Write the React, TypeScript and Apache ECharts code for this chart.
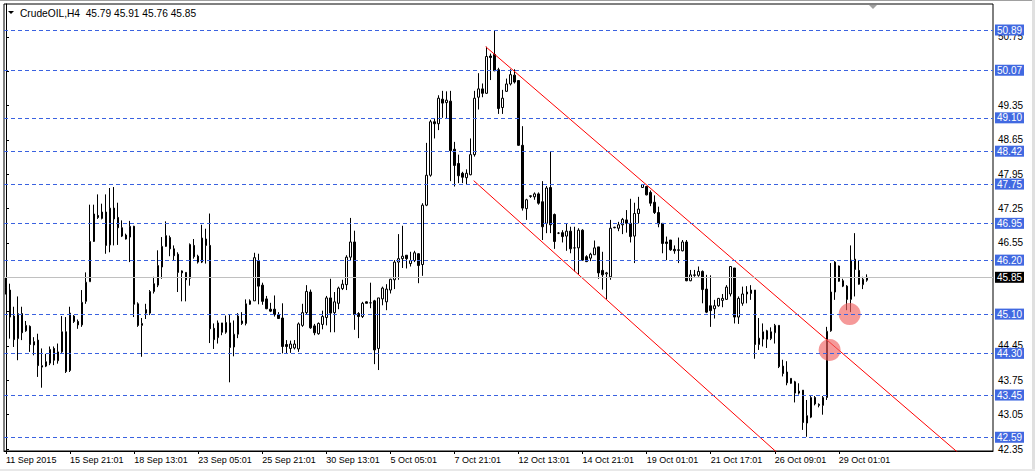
import React, { useEffect, useRef } from 'react';
import * as echarts from 'echarts';

const FONT = '"Liberation Sans", Arial, sans-serif';

const header = 'CrudeOIL,H4  45.79 45.91 45.76 45.85';

const tickLabels = [
  '11 Sep 2015', '15 Sep 21:01', '18 Sep 13:01', '23 Sep 05:01', '25 Sep 21:01',
  '30 Sep 13:01', '5 Oct 05:01', '7 Oct 21:01', '12 Oct 13:01', '14 Oct 21:01',
  '19 Oct 01:01', '21 Oct 17:01', '26 Oct 09:01', '29 Oct 01:01',
];
const TICK_STEP = 16;
const BAR_SLOTS = 247;

const opens = [
  45.65, 45.59, 45.06, 44.60, 45.11, 44.76, 44.85, 44.47, 44.57, 44.02,
  44.04, 44.10, 44.40, 44.15, 44.33, 44.74, 43.95, 45.06, 44.95, 44.88,
  45.36, 45.76, 46.58, 47.11, 47.05, 47.18, 46.51, 47.26, 47.07, 46.86,
  46.71, 46.67, 46.89, 45.31, 44.87, 45.19, 45.12, 45.56, 45.69, 46.06,
  46.48, 46.66, 46.43, 46.32, 45.98, 45.95, 45.83, 46.50, 46.28, 46.16,
  46.63, 46.50, 44.81, 44.62, 44.92, 44.73, 44.92, 44.43, 44.69, 44.96,
  44.91, 45.30, 45.37, 46.18, 45.69, 45.41, 45.20, 45.20, 45.09, 45.02,
  44.48, 44.40, 44.41, 44.39, 44.87, 45.13, 45.55, 44.86, 44.70, 44.89,
  45.03, 45.43, 45.13, 45.32, 45.62, 45.70, 46.26, 46.57, 45.11, 45.05,
  45.35, 45.33, 45.37, 44.40, 45.41, 45.35, 45.59, 45.80, 46.16, 46.23,
  46.30, 46.13, 46.19, 46.33, 46.11, 47.32, 47.93, 49.02, 48.98, 49.48,
  49.41, 49.44, 48.46, 48.17, 47.97, 47.88, 47.94, 48.35, 49.52, 49.69,
  49.60, 50.36, 50.39, 50.08, 49.31, 49.64, 49.79, 49.97, 49.86, 48.54,
  47.25, 47.51, 47.49, 47.55, 47.39, 46.95, 47.68, 47.13, 46.75, 46.76,
  46.69, 46.79, 46.45, 46.45, 46.81, 46.27, 46.24, 46.31, 46.47, 45.99,
  45.92, 45.86, 46.86, 46.85, 46.92, 47.02, 46.95, 46.69, 47.15, 47.68,
  47.70, 47.58, 47.38, 47.17, 46.95, 46.57, 46.61, 46.42, 46.41, 46.39,
  46.57, 45.78, 45.89, 45.89, 45.97, 45.61, 45.27, 45.21, 45.27, 45.38,
  45.40, 45.51, 46.04, 45.04, 45.32, 45.51, 45.52, 45.59, 44.48, 44.59,
  44.76, 44.60, 44.72, 44.87, 44.04, 43.92, 43.79, 43.72, 43.49, 43.55,
  42.88, 43.00, 43.40, 43.26, 43.24, 43.40, 44.76, 45.55, 46.08, 45.78,
  45.67, 45.40, 46.22, 45.99, 45.70, 45.79,
];
const highs = [
  45.85, 45.72, 45.25, 45.46, 45.25, 44.96, 44.87, 44.63, 44.70, 44.40,
  44.29, 44.44, 44.44, 44.50, 45.06, 45.04, 45.25, 45.08, 44.99, 45.59,
  45.95, 47.33, 47.33, 47.54, 47.35, 47.54, 47.67, 47.69, 47.37, 47.01,
  46.74, 47.00, 46.90, 45.34, 45.02, 45.31, 45.59, 45.86, 46.40, 46.67,
  46.99, 46.70, 46.50, 46.36, 45.99, 45.95, 46.54, 46.63, 46.31, 46.92,
  46.84, 47.15, 44.91, 44.97, 44.92, 45.07, 45.10, 44.97, 45.12, 45.14,
  45.40, 45.40, 46.35, 46.33, 45.74, 45.47, 45.33, 45.48, 45.14, 45.32,
  44.57, 44.56, 44.57, 44.93, 45.31, 45.69, 45.60, 44.90, 44.93, 45.17,
  45.47, 45.82, 45.55, 45.66, 45.80, 46.30, 47.06, 46.80, 45.14, 45.35,
  45.36, 45.74, 45.39, 45.43, 45.66, 45.71, 45.82, 46.20, 46.73, 46.90,
  46.30, 46.37, 46.39, 46.34, 47.36, 48.59, 49.06, 49.08, 49.56, 49.65,
  49.64, 49.65, 48.61, 48.35, 48.00, 48.05, 48.68, 49.65, 50.01, 49.80,
  50.55, 50.41, 50.88, 50.12, 49.67, 49.90, 50.09, 50.09, 49.87, 48.93,
  47.45, 47.52, 47.58, 47.58, 47.81, 47.71, 48.42, 47.15, 46.77, 46.81,
  46.94, 46.88, 46.88, 46.85, 46.83, 46.30, 46.35, 46.60, 46.47, 46.37,
  45.96, 47.02, 46.88, 46.98, 47.06, 47.22, 47.45, 47.37, 47.49, 47.75,
  47.71, 47.62, 47.52, 47.29, 46.95, 46.68, 46.61, 46.50, 46.66, 46.61,
  46.61, 46.00, 46.00, 46.07, 45.99, 45.90, 45.89, 45.39, 45.43, 45.51,
  45.69, 46.08, 46.04, 45.46, 45.66, 45.67, 45.69, 45.59, 45.02, 44.91,
  44.78, 44.83, 44.90, 44.87, 44.17, 44.14, 43.79, 43.74, 43.69, 43.55,
  43.35, 43.43, 43.43, 43.28, 43.43, 44.84, 46.14, 46.18, 46.09, 45.82,
  45.69, 46.50, 46.75, 46.20, 45.86, 45.91,
];
const lows = [
  45.50, 44.60, 44.43, 44.16, 44.57, 44.74, 44.33, 44.26, 43.82, 43.60,
  44.02, 44.06, 44.06, 44.09, 44.31, 43.90, 43.92, 44.92, 44.80, 44.84,
  45.31, 45.76, 46.57, 47.04, 47.03, 46.33, 46.36, 46.50, 46.51, 46.67,
  46.62, 46.16, 45.04, 44.84, 44.23, 45.00, 45.08, 45.52, 45.65, 45.82,
  46.47, 46.28, 46.20, 45.55, 45.36, 45.36, 45.68, 46.23, 46.13, 46.14,
  46.13, 44.51, 44.39, 44.50, 44.67, 44.70, 43.71, 44.24, 44.61, 44.88,
  44.87, 45.29, 45.37, 45.30, 45.29, 45.20, 45.14, 45.05, 45.00, 44.30,
  44.29, 44.31, 44.38, 44.33, 44.84, 45.09, 44.80, 44.67, 44.68, 44.79,
  44.87, 44.73, 44.73, 45.20, 45.59, 45.59, 46.20, 44.78, 44.61, 45.02,
  45.32, 45.22, 44.08, 43.96, 45.28, 45.18, 45.52, 45.61, 45.80, 46.04,
  46.03, 46.07, 46.16, 45.73, 45.88, 47.30, 47.90, 48.68, 48.85, 49.10,
  49.08, 47.81, 47.70, 47.77, 47.77, 47.75, 47.93, 48.31, 49.27, 49.52,
  49.59, 49.87, 50.05, 49.18, 49.18, 49.63, 49.76, 49.80, 48.53, 47.21,
  47.02, 47.47, 47.43, 47.33, 46.61, 46.75, 46.75, 46.43, 46.73, 46.56,
  46.39, 46.34, 45.97, 45.90, 46.19, 46.16, 46.18, 46.31, 45.82, 45.60,
  45.40, 45.80, 46.85, 46.79, 46.73, 46.76, 46.56, 46.14, 46.95, 47.67,
  47.52, 47.30, 47.14, 46.87, 46.34, 46.20, 46.39, 46.33, 46.14, 46.38,
  45.77, 45.77, 45.86, 45.86, 45.32, 45.12, 44.84, 45.01, 45.25, 45.24,
  45.39, 45.46, 44.91, 44.90, 45.27, 45.32, 45.39, 44.19, 44.37, 44.44,
  44.41, 44.57, 44.50, 44.00, 43.83, 43.65, 43.68, 43.30, 43.46, 42.74,
  42.60, 42.98, 43.24, 43.20, 43.05, 43.35, 44.74, 45.39, 45.76, 45.65,
  45.18, 45.14, 45.46, 45.70, 45.61, 45.76,
];
const closes = [
  45.55, 45.04, 44.58, 45.11, 44.72, 44.87, 44.48, 44.54, 44.05, 44.05,
  44.13, 44.38, 44.16, 44.33, 44.74, 43.93, 45.12, 44.95, 44.88, 45.34,
  45.75, 46.58, 47.14, 47.07, 47.18, 46.50, 47.26, 47.04, 46.86, 46.69,
  46.63, 46.89, 45.30, 44.87, 44.91, 45.12, 45.56, 45.72, 46.09, 46.48,
  46.70, 46.43, 46.29, 45.95, 45.94, 45.80, 46.52, 46.27, 46.16, 46.65,
  46.50, 44.80, 44.58, 44.92, 44.73, 44.93, 44.42, 44.69, 45.06, 44.91,
  45.31, 45.37, 46.25, 45.67, 45.36, 45.21, 45.16, 45.09, 45.01, 44.44,
  44.44, 44.49, 44.49, 44.90, 45.13, 45.56, 44.82, 44.72, 44.91, 45.05,
  45.43, 45.12, 45.35, 45.63, 45.71, 46.26, 46.57, 45.09, 45.05, 45.32,
  45.32, 45.33, 44.37, 45.43, 45.63, 45.61, 45.81, 46.16, 46.23, 46.28,
  46.23, 46.19, 46.35, 46.09, 47.32, 47.93, 49.02, 48.98, 49.50, 49.40,
  49.46, 48.43, 48.13, 47.92, 47.89, 47.97, 48.35, 49.50, 49.69, 49.60,
  50.35, 50.33, 50.06, 49.29, 49.50, 49.79, 49.98, 49.83, 48.54, 47.26,
  47.43, 47.50, 47.55, 47.36, 46.88, 47.67, 46.92, 46.58, 46.75, 46.68,
  46.79, 46.43, 46.45, 46.81, 46.20, 46.17, 46.32, 46.45, 45.94, 45.90,
  45.94, 46.85, 46.87, 46.92, 47.03, 46.95, 46.68, 47.15, 47.24, 47.74,
  47.53, 47.36, 47.17, 46.94, 46.54, 46.54, 46.41, 46.39, 46.40, 46.57,
  45.78, 45.90, 45.90, 45.97, 45.60, 45.14, 45.17, 45.27, 45.42, 45.42,
  45.65, 46.07, 45.04, 45.42, 45.51, 45.55, 45.59, 44.48, 44.61, 44.74,
  44.59, 44.74, 44.87, 44.03, 43.89, 43.70, 43.69, 43.49, 43.53, 42.89,
  43.03, 43.40, 43.27, 43.24, 43.40, 44.75, 45.55, 46.16, 45.77, 45.67,
  45.40, 46.20, 46.01, 45.71, 45.81, 45.85,
];

const hLevels = [50.89, 50.07, 49.1, 48.42, 47.75, 46.95, 46.2, 45.1, 44.3, 43.45, 42.59];
const bidPrice = 45.85;
const priceTicks = [50.75, 50.05, 49.35, 48.65, 47.95, 47.25, 46.55, 45.85, 45.15, 44.45, 43.75, 43.05, 42.35];
// labels that are not fully covered by the level boxes
const priceLabels = [50.75, 49.35, 48.65, 47.95, 47.25, 46.55, 44.45, 43.75, 43.05, 42.35];
const priceMin = 42.31;
const priceMax = 51.42;

const upperChannel = [[119.8, 50.55], [240, 42.12]];
const lowerChannel = [[116.8, 47.82], [195, 42.1]];
const markers = [[205.7, 44.37], [210.7, 45.1]];

const showTick = (i: number) => i % TICK_STEP === 0 && i / TICK_STEP < tickLabels.length;

export default function App() {
  const ref = useRef<HTMLDivElement>(null);
  useEffect(() => {
    if (!ref.current) return;
    const chart = echarts.init(ref.current, undefined, { renderer: 'svg' });
    const categories = Array.from({ length: BAR_SLOTS }, (_, i) => String(i));
    const candles = opens.map((o, i) => [o, closes[i], lows[i], highs[i]]);
    const option: any = {
      animation: false,
      backgroundColor: '#ffffff',
      textStyle: { fontFamily: FONT },
      grid: {
        left: 4, top: 4, right: 42, bottom: 20,
        show: true, borderColor: '#000', borderWidth: 1, backgroundColor: '#fff',
      },
      xAxis: [
        {
          type: 'category',
          data: categories,
          boundaryGap: true,
          axisLine: { show: true, lineStyle: { color: '#000', width: 1 } },
          axisTick: {
            show: true, alignWithLabel: true, length: 3,
            interval: (i: number) => showTick(i),
            lineStyle: { color: '#000' },
          },
          axisLabel: {
            interval: (i: number) => showTick(i),
            formatter: (_v: string, i: number) => (showTick(i) ? tickLabels[i / TICK_STEP] : ''),
            align: 'left', margin: 4, fontSize: 9, color: '#000', fontFamily: FONT,
          },
          splitLine: { show: false },
        },
        { type: 'value', min: -0.5, max: BAR_SLOTS - 0.5, show: false },
      ],
      yAxis: [
        {
          type: 'value',
          position: 'right',
          min: priceMin,
          max: priceMax,
          axisLine: { show: true, lineStyle: { color: '#000' } },
          axisTick: { show: true, length: 3, customValues: priceTicks, lineStyle: { color: '#000' } },
          axisLabel: {
            customValues: priceLabels,
            formatter: (v: number) => v.toFixed(2),
            color: '#000', fontSize: 10, margin: 5, fontFamily: FONT,
          },
          splitLine: { show: false },
        },
      ],
      series: [
        {
          type: 'candlestick',
          xAxisIndex: 0,
          data: candles,
          barWidth: 2,
          itemStyle: {
            color: '#ffffff', color0: '#000000',
            borderColor: '#000000', borderColor0: '#000000', borderWidth: 1,
          },
          markLine: {
            silent: true,
            symbol: ['none', 'none'],
            precision: 2,
            label: {
              show: true, position: 'end', distance: 2,
              formatter: (p: any) => Number(p.value).toFixed(2),
              color: '#fff', backgroundColor: '#4169e1',
              padding: [1, 2, 0, 2], fontSize: 10, fontFamily: FONT,
            },
            lineStyle: { type: [4, 3], color: '#3a62e0', width: 1 },
            data: [
              ...hLevels.map((v) => ({ yAxis: v })),
              {
                yAxis: bidPrice,
                lineStyle: { type: 'solid', color: '#c0c0c0', width: 1 },
                label: { backgroundColor: '#000000', color: '#fff' },
              },
            ],
          },
        },
        {
          type: 'line', xAxisIndex: 1, data: upperChannel, symbol: 'none', clip: true,
          lineStyle: { color: '#ff0000', width: 1 }, z: 3,
        },
        {
          type: 'line', xAxisIndex: 1, data: lowerChannel, symbol: 'none', clip: true,
          lineStyle: { color: '#ff0000', width: 1 }, z: 3,
        },
        {
          type: 'scatter', xAxisIndex: 1, data: markers, symbolSize: 22,
          itemStyle: { color: 'rgba(239,96,96,0.8)' }, z: 4,
        },
      ],
      graphic: [
        { type: 'rect', shape: { x: 0, y: 0, width: 1035, height: 1 }, style: { fill: '#a0a0a0' }, silent: true },
        { type: 'rect', shape: { x: 1032, y: 0, width: 3, height: 471 }, style: { fill: '#e0e0e0' }, silent: true },
        { type: 'rect', shape: { x: 0, y: 469, width: 1035, height: 2 }, style: { fill: '#e8e8e8' }, silent: true },
        { type: 'polygon', shape: { points: [[8, 11], [14, 11], [11, 14]] }, style: { fill: '#000' }, silent: true },
        {
          type: 'text', x: 20, y: 13,
          style: { text: header, fill: '#000', fontSize: 10.2, fontFamily: FONT, verticalAlign: 'middle', align: 'left' },
          silent: true,
        },
        { type: 'polygon', shape: { points: [[869, 5], [877, 5], [873, 9]] }, style: { fill: '#a0a0a0' }, silent: true },
      ],
    };
    chart.setOption(option);
    return () => chart.dispose();
  }, []);
  return (
    <div
      ref={ref}
      style={{ position: 'absolute', left: 0, top: 0, width: 1035, height: 471 }}
    />
  );
}
